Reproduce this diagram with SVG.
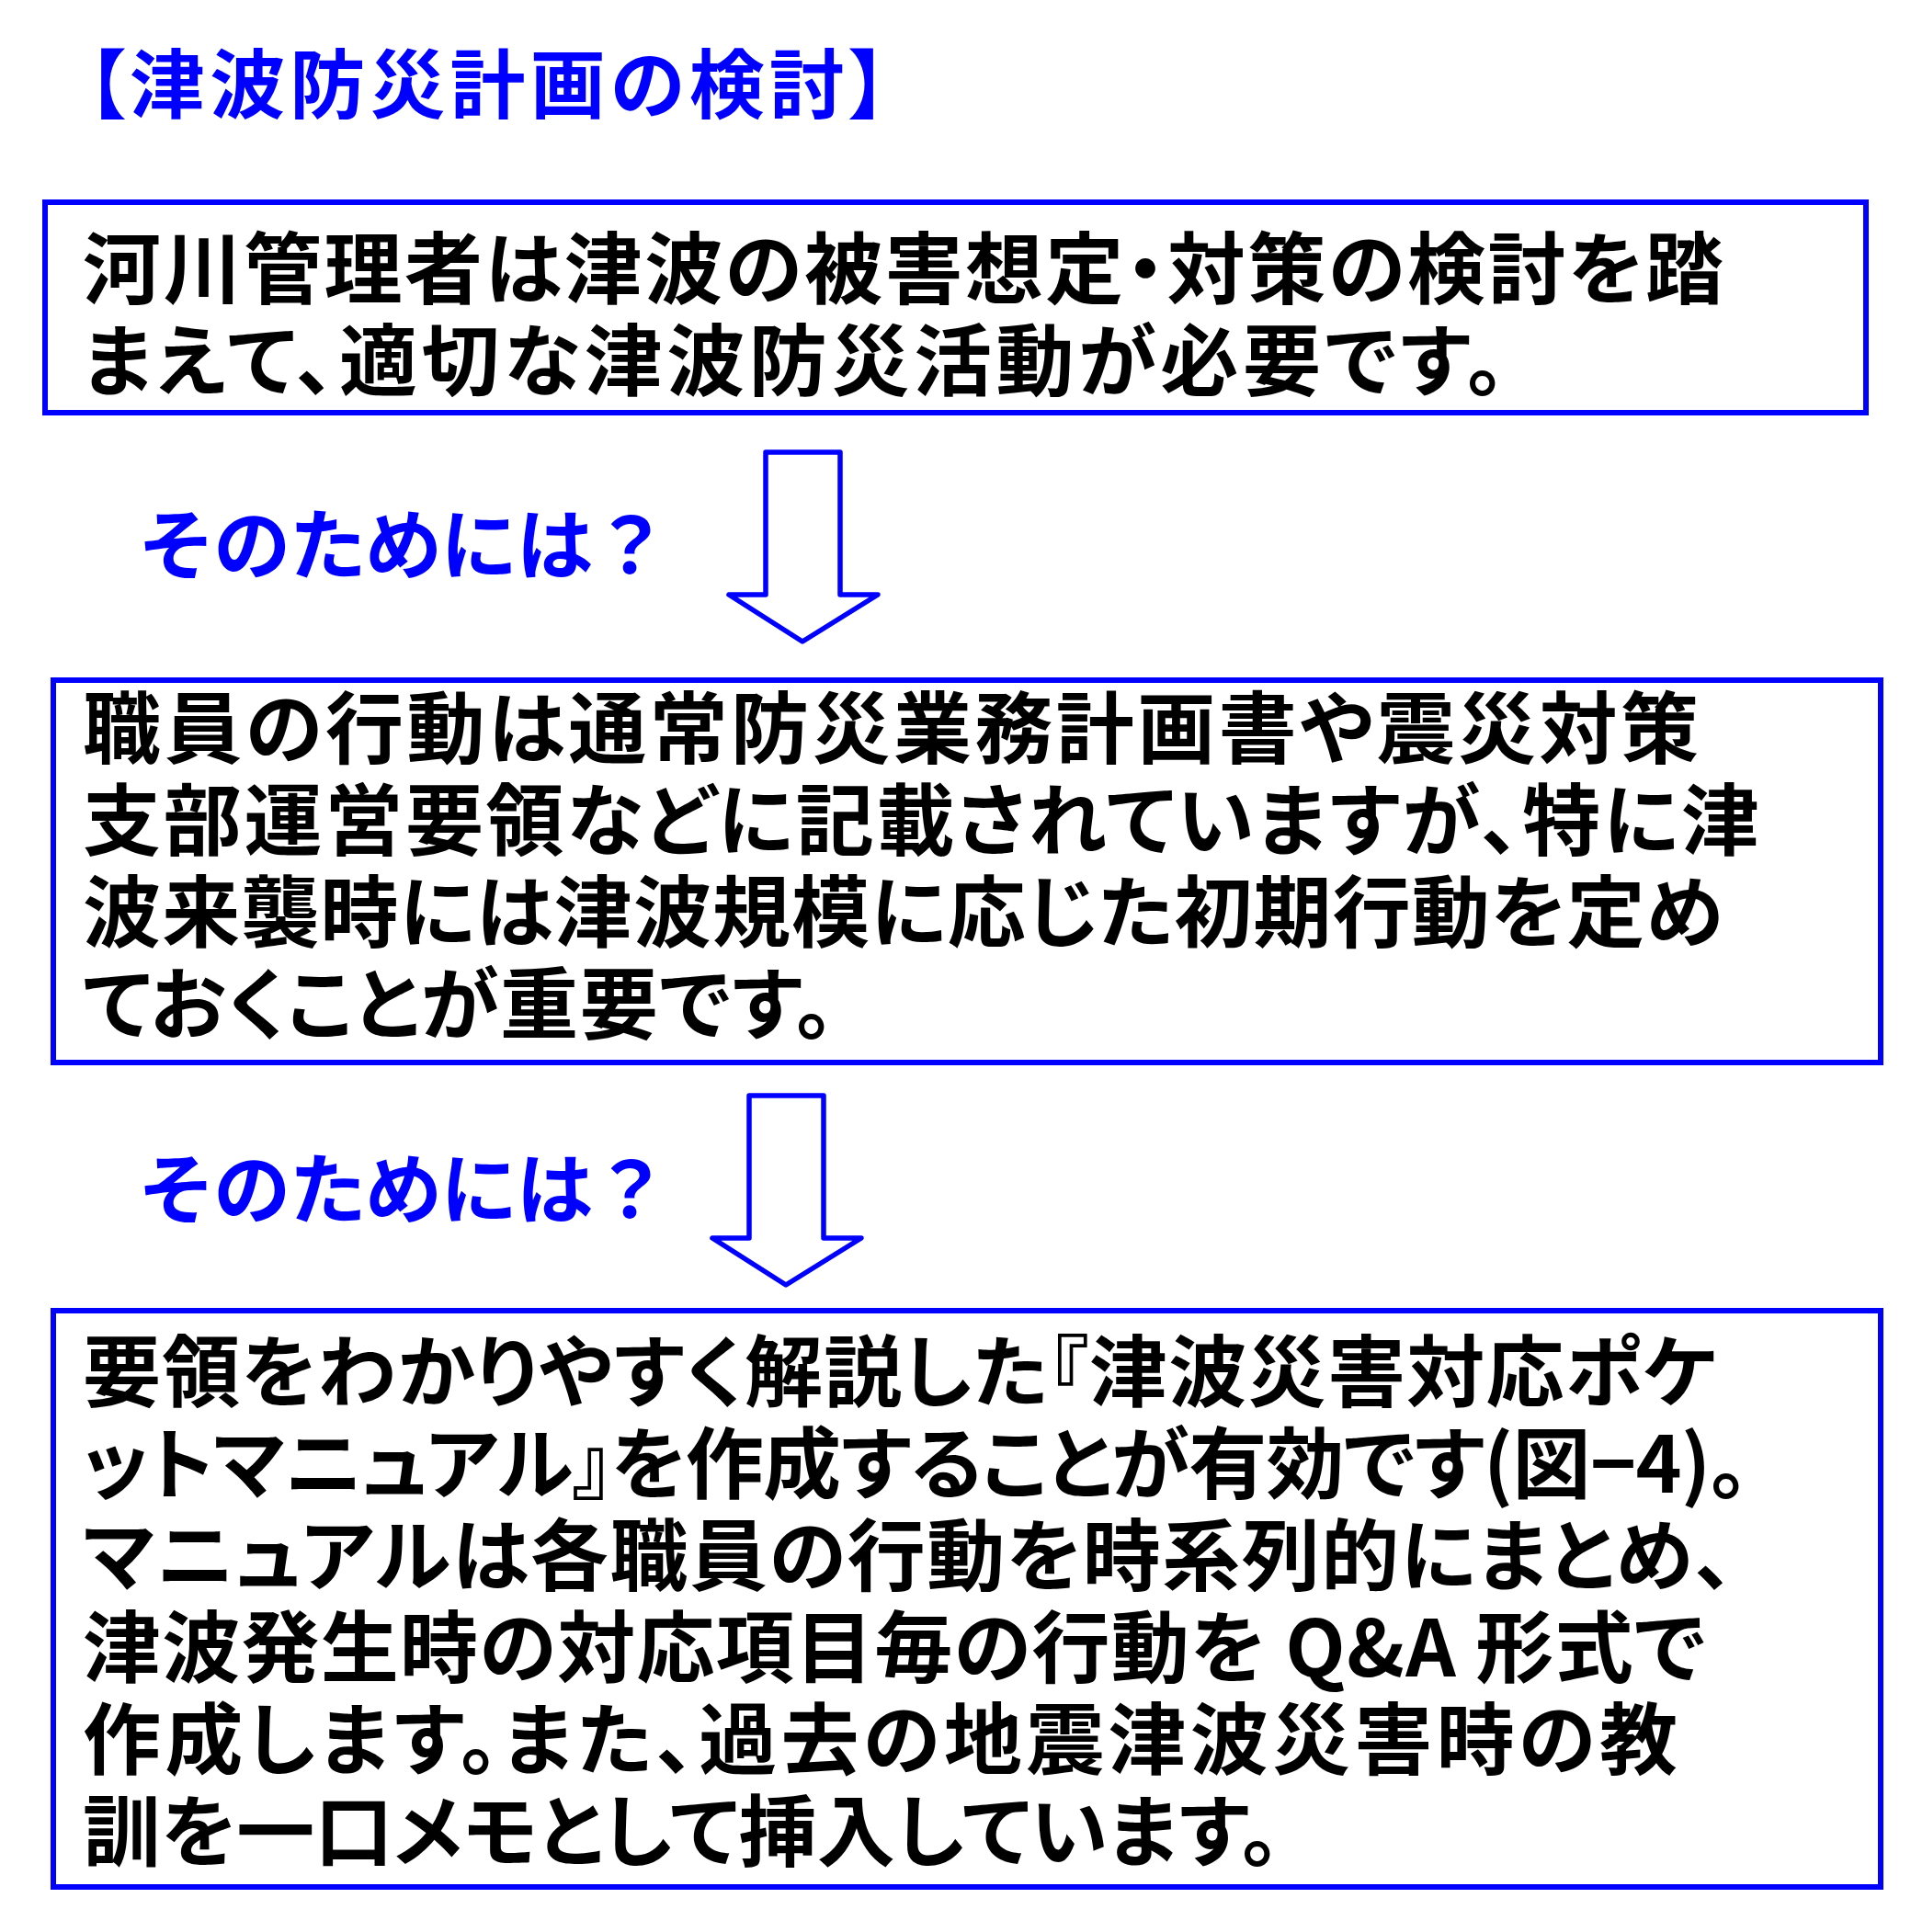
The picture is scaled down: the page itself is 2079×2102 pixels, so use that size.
<svg xmlns="http://www.w3.org/2000/svg" width="2079" height="2102" viewBox="0 0 2079 2102">
<style>
.bg{fill:#ffffff}
.box{fill:#ffffff;stroke:#0000ff;stroke-width:6}
.arrow{fill:#ffffff;stroke:#0000ff;stroke-width:5.5;stroke-linejoin:round}
text{font-family:"Noto Sans CJK JP","Noto Sans CJK SC",sans-serif;font-weight:700}
.body{font-size:85px;fill:#000000;font-feature-settings:"palt" 1}
.title{font-size:82px;fill:#0000ff;font-feature-settings:"palt" 1}
.q{font-size:84px;fill:#0000ff}
</style>
<rect class="bg" x="0" y="0" width="2079" height="2102"/>

<g id="title">
<text class="title" x="95" y="122" textLength="870" lengthAdjust="spacing">【津波防災計画の検討】</text>
</g>

<g id="connectors">
<path class="arrow" d="M833,492 L914,492 L914,647 L955,647 L873,698 L793,647 L833,647 Z"/>
<path class="arrow" d="M815,1192 L896,1192 L896,1347 L937,1347 L855,1398 L775,1347 L815,1347 Z"/>
</g>

<g id="label1">
<text class="q" x="150" y="624" textLength="578" lengthAdjust="spacing">そのためには？</text>
</g>
<g id="label2">
<text class="q" x="150" y="1325" textLength="578" lengthAdjust="spacing">そのためには？</text>
</g>

<g id="node1">
<rect class="box" x="49" y="220" width="1981" height="229"/>
<text class="body" x="90" y="324" textLength="1785" lengthAdjust="spacing">河川管理者は津波の被害想定・対策の検討を踏</text>
<text class="body" x="90" y="424" textLength="1548" lengthAdjust="spacing">まえて、適切な津波防災活動が必要です。</text>
</g>

<g id="node2">
<rect class="box" x="58" y="740" width="1988" height="416"/>
<text class="body" x="90" y="824" textLength="1758" lengthAdjust="spacing">職員の行動は通常防災業務計画書や震災対策</text>
<text class="body" x="90" y="924" textLength="1824" lengthAdjust="spacing">支部運営要領などに記載されていますが、特に津</text>
<text class="body" x="90" y="1024" textLength="1785" lengthAdjust="spacing">波来襲時には津波規模に応じた初期行動を定め</text>
<text class="body" x="90" y="1124" textLength="818" lengthAdjust="spacing">ておくことが重要です。</text>
</g>

<g id="node3">
<rect class="box" x="58" y="1426" width="1988" height="627"/>
<text class="body" x="90" y="1524" textLength="1778" lengthAdjust="spacing">要領をわかりやすく解説した『津波災害対応ポケ</text>
<text class="body" x="90" y="1624" textLength="1813" lengthAdjust="spacing">ットマニュアル』を作成することが有効です(図−4)。</text>
<text class="body" x="90" y="1724" textLength="1796" lengthAdjust="spacing">マニュアルは各職員の行動を時系列的にまとめ、</text>
<text class="body" x="90" y="1824" textLength="1765" lengthAdjust="spacing">津波発生時の対応項目毎の行動を Q&amp;A 形式で</text>
<text class="body" x="90" y="1924" textLength="1735" lengthAdjust="spacing">作成します。また、過去の地震津波災害時の教</text>
<text class="body" x="90" y="2024" textLength="1303" lengthAdjust="spacing">訓を一口メモとして挿入しています。</text>
</g>
</svg>
